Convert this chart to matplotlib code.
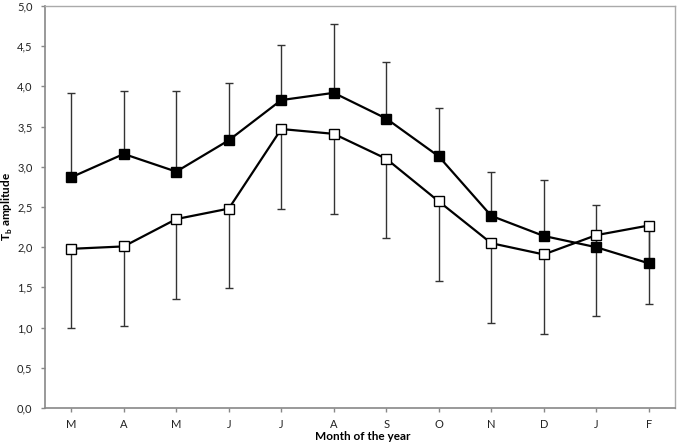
import matplotlib.pyplot as plt
from matplotlib.ticker import FuncFormatter

months = ["M", "A", "M", "J", "J", "A", "S", "O", "N", "D", "J", "F"]
filled_vals = [2.87, 3.16, 2.94, 3.33, 3.83, 3.92, 3.60, 3.13, 2.39, 2.14, 2.00, 1.80]
filled_err_up = [1.05, 0.78, 1.00, 0.71, 0.68, 0.86, 0.70, 0.60, 0.54, 0.70, 0.53, 0.47]
open_vals = [1.98, 2.01, 2.35, 2.48, 3.47, 3.41, 3.10, 2.57, 2.05, 1.91, 2.15, 2.27]
open_err_down = [0.99, 0.99, 1.00, 0.99, 1.00, 1.00, 0.99, 0.99, 0.99, 0.99, 1.01, 0.98]

plt.rcParams['font.family'] = ['Lato', 'DejaVu Sans']

fig = plt.figure(figsize=(6.79, 4.45), dpi=100)
ax = fig.add_axes([0.0663, 0.0831, 0.9278, 0.9034])

x = list(range(len(months)))
zeros = [0] * len(months)

ax.errorbar(x, filled_vals, yerr=[zeros, filled_err_up], fmt='none',
            ecolor='#333333', elinewidth=1, capsize=3, capthick=1, zorder=2)
ax.errorbar(x, open_vals, yerr=[open_err_down, zeros], fmt='none',
            ecolor='#333333', elinewidth=1, capsize=3, capthick=1, zorder=2)

ax.plot(x, filled_vals, color='black', lw=1.6, marker='s', markersize=6.5,
        markerfacecolor='black', markeredgecolor='black', zorder=3)
ax.plot(x, open_vals, color='black', lw=1.6, marker='s', markersize=6.5,
        markerfacecolor='white', markeredgecolor='black', markeredgewidth=1, zorder=3)

ax.set_xlim(-0.5, len(months) - 0.5)
ax.set_ylim(0, 5)
ax.set_xticks(x)
ax.set_xticklabels(months)
ax.set_yticks([i * 0.5 for i in range(11)])
ax.yaxis.set_major_formatter(FuncFormatter(lambda v, p: f"{v:.1f}".replace('.', ',')))
ax.tick_params(axis='both', direction='out', length=3, width=1, color='#888888',
               labelsize=8, labelcolor='#222222')
ax.tick_params(axis='x', pad=5)
ax.tick_params(axis='y', pad=6)

for s in ['left', 'bottom']:
    ax.spines[s].set_color('#888888')
    ax.spines[s].set_linewidth(1.2)
for s in ['top', 'right']:
    ax.spines[s].set_color('#aaaaaa')
    ax.spines[s].set_linewidth(1)

ax.set_ylabel(r"T$_\mathregular{b}$ amplitude", fontsize=8.5, fontweight='bold')
ax.yaxis.set_label_coords(-0.059, 0.5)
ax.set_xlabel("Month of the year", fontsize=8.5, fontweight='bold')
ax.xaxis.set_label_coords(0.505, -0.072)
ax.xaxis.label.set_va('center')
ax.yaxis.label.set_va('center')

fig.savefig("out.png", dpi=100)
